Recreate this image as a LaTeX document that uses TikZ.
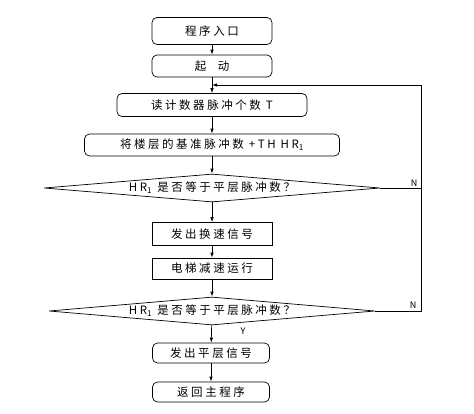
\documentclass[tikz,border=0pt]{standalone}
\usepackage{fontspec}
\setmainfont{Noto Sans CJK SC}[LetterSpace=22]
\usetikzlibrary{shapes.geometric,arrows.meta}

\tikzset{
  rbox/.style={draw,rounded corners=5pt,inner sep=0pt,line width=0.7pt},
  sbox/.style={draw,inner sep=0pt,line width=0.7pt},
  ask/.style={draw,diamond,aspect=12,inner sep=0pt,line width=0.7pt},
  flow/.style={line width=0.7pt,-{Latex[length=5pt,width=3.5pt]}},
  link/.style={line width=0.7pt}
}

\begin{document}
\begin{tikzpicture}[x=1pt,y=-1pt,font=\fontsize{11.5}{13}\selectfont]
\useasboundingbox (0,0) rectangle (474,413);

% main column
\node[rbox,minimum width=120pt,minimum height=27pt] (entry) at (212,31) {程序入口};
\node[rbox,minimum width=120pt,minimum height=22pt] (start) at (212,66) {起\quad 动};
\node[rbox,minimum width=190pt,minimum height=23pt] (readT) at (212,105) {读计数器脉冲个数 T};
\node[rbox,minimum width=255pt,minimum height=22pt] (addHR) at (212,145) {将楼层的基准脉冲数 +TH HR\textsubscript{1}};
\node[ask,minimum width=336pt,minimum height=28pt] (test1) at (212,188) {HR\textsubscript{1} 是否等于平层脉冲数？};
\node[sbox,minimum width=120pt,minimum height=23pt] (slow) at (212,234) {发出换速信号};
\node[sbox,minimum width=120pt,minimum height=21pt] (decel) at (212,268.5) {电梯减速运行};
\node[ask,minimum width=326pt,minimum height=28pt] (test2) at (212,311) {HR\textsubscript{1} 是否等于平层脉冲数？};
\node[rbox,minimum width=117pt,minimum height=20pt] (level) at (211,353) {发出平层信号};
\node[rbox,minimum width=117pt,minimum height=20pt] (back) at (211,392) {返回主程序};

\coordinate (join) at (212,85);
\coordinate (loop1) at (421,188);
\coordinate (loop2) at (421,311);

\draw[flow] (entry) -- (start);
\draw[flow] (start) -- (readT);
\draw[flow] (readT) -- (addHR);
\draw[flow] (addHR) -- (test1);
\draw[flow] (test1) -- (slow);
\draw[flow] (slow) -- (decel);
\draw[flow] (decel) -- (test2);
\draw[flow] (test2) -- (level);
\draw[flow] (level) -- (back);

% N branches back to the counter
\draw[link] (test1.east) -- (loop1);
\draw[flow] (test2.east) -- (loop2) |- (join);

\node[font=\fontsize{9}{10}\selectfont] (n1) at (414,183) {N};
\node[font=\fontsize{9}{10}\selectfont] (n2) at (413,305) {N};
\node[font=\fontsize{9}{10}\selectfont] (y2) at (243,331) {Y};
\end{tikzpicture}
\end{document}
